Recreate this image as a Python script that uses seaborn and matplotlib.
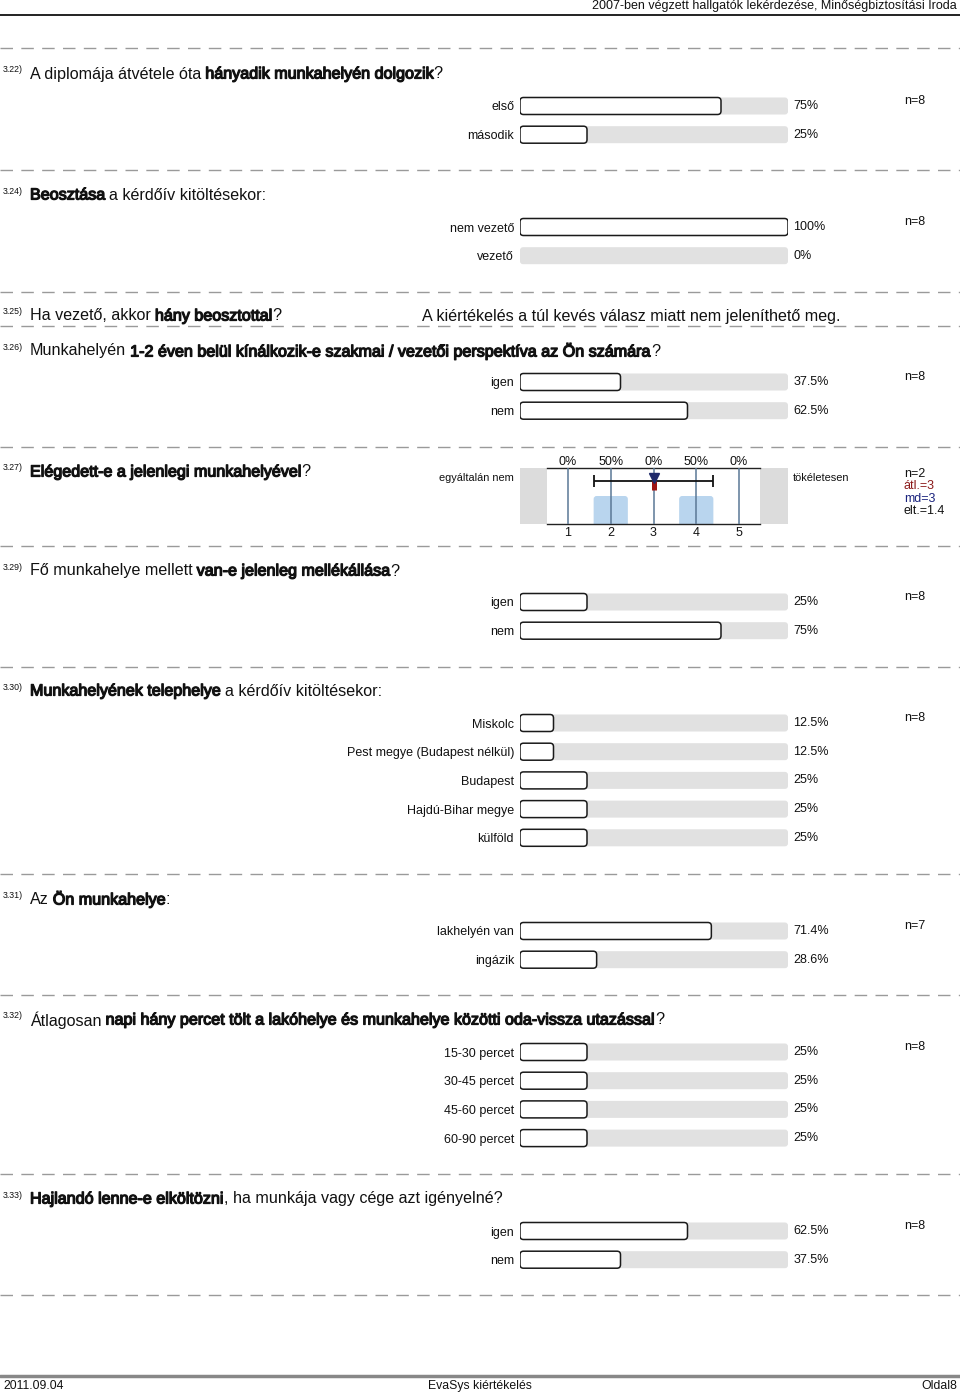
import numpy as np
import pandas as pd
import matplotlib
matplotlib.use("Agg")
import matplotlib.pyplot as plt
import matplotlib.patheffects as pe
import seaborn as sns
from matplotlib.patches import FancyBboxPatch, Rectangle

# ---------------- data ----------------
header_text = "2007-ben végzett hallgatók lekérdezése, Minőségbiztosítási Iroda"
footer_left = "2011.09.04"
footer_mid = "EvaSys kiértékelés"
footer_right = "Oldal8"

q22_labels = ["első", "második"]
q22_values = [75, 25]
q22_n = "n=8"

q24_labels = ["nem vezető", "vezető"]
q24_values = [100, 0]
q24_n = "n=8"

q25_note = "A kiértékelés a túl kevés válasz miatt nem jeleníthető meg."

q26_labels = ["igen", "nem"]
q26_values = [37.5, 62.5]
q26_n = "n=8"

q27_scores = [1, 2, 3, 4, 5]
q27_pct = [0, 50, 0, 50, 0]
q27_left = "egyáltalán nem"
q27_right = "tökéletesen"
q27_n = 2
q27_mean = 3
q27_median = 3
q27_sd = 1.4

q29_labels = ["igen", "nem"]
q29_values = [25, 75]
q29_n = "n=8"

q30_labels = ["Miskolc", "Pest megye (Budapest nélkül)", "Budapest", "Hajdú-Bihar megye", "külföld"]
q30_values = [12.5, 12.5, 25, 25, 25]
q30_n = "n=8"

q31_labels = ["lakhelyén van", "ingázik"]
q31_values = [71.4, 28.6]
q31_n = "n=7"

q32_labels = ["15-30 percet", "30-45 percet", "45-60 percet", "60-90 percet"]
q32_values = [25, 25, 25, 25]
q32_n = "n=8"

q33_labels = ["igen", "nem"]
q33_values = [62.5, 37.5]
q33_n = "n=8"

questions = [
    ("3.22)", [("A diplomája átvétele óta ", False), ("hányadik munkahelyén dolgozik", True), ("?", False)]),
    ("3.24)", [("Beosztása", True), (" a kérdőív kitöltésekor:", False)]),
    ("3.25)", [("Ha vezető, akkor ", False), ("hány beosztottal", True), ("?", False)]),
    ("3.26)", [("Munkahelyén ", False), ("1-2 éven belül kínálkozik-e szakmai / vezetői perspektíva az Ön számára", True), ("?", False)]),
    ("3.27)", [("Elégedett-e a jelenlegi munkahelyével", True), ("?", False)]),
    ("3.29)", [("Fő munkahelye mellett ", False), ("van-e jelenleg mellékállása", True), ("?", False)]),
    ("3.30)", [("Munkahelyének telephelye", True), (" a kérdőív kitöltésekor:", False)]),
    ("3.31)", [("Az ", False), ("Ön munkahelye", True), (":", False)]),
    ("3.32)", [("Átlagosan ", False), ("napi hány percet tölt a lakóhelye és munkahelye közötti oda-vissza utazással", True), ("?", False)]),
    ("3.33)", [("Hajlandó lenne-e elköltözni", True), (", ha munkája vagy cége azt igényelné?", False)]),
]

# ---------------- layout ----------------
W, H = 960, 1395
sns.set_theme(style="white")
plt.rcParams["font.family"] = ["Liberation Sans", "DejaVu Sans"]

fig = plt.figure(figsize=(W / 100, H / 100), dpi=100)
page = fig.add_axes([0, 0, 1, 1])
page.set_xlim(0, W)
page.set_ylim(H, 0)
page.axis("off")
renderer = fig.canvas.get_renderer()

Q_SIZE = 11.6
L_SIZE = 9.0
S_SIZE = 9.0
TXT = "#111111"
FAUX_BOLD = [pe.withStroke(linewidth=0.9, foreground=TXT)]


def px_axes(x0, y0, x1, y1):
    return fig.add_axes([x0 / W, 1 - y1 / H, (x1 - x0) / W, (y1 - y0) / H])


def measure(txt, size):
    t = page.text(0, 0, txt, fontsize=size)
    w = t.get_window_extent(renderer).width
    t.remove()
    return w


SPACE = 0.9 * (measure("a a", Q_SIZE) - measure("aa", Q_SIZE))


def question(num, segs, y):
    page.text(3, y - 4, num, fontsize=6.3, color=TXT, va="center", ha="left")
    x = 30
    for txt, bold in segs:
        lead = len(txt) - len(txt.lstrip(" "))
        trail = len(txt) - len(txt.rstrip(" "))
        core = txt.strip(" ")
        x += lead * SPACE
        t = page.text(x, y, core, fontsize=Q_SIZE, color=TXT, va="center", ha="left",
                      path_effects=FAUX_BOLD if bold else None)
        x += t.get_window_extent(renderer).width - (0.5 if bold else 0)
        x += trail * SPACE


def dashed(y):
    page.plot([0, W], [y, y], color="#9a9a9a", lw=1.0, linestyle=(0, (9, 6)))


def round_patch(ax, p, fc, ec, lw, r_px, xpx, ypx):
    x, y, w, h = p.get_x(), p.get_y(), p.get_width(), p.get_height()
    p.set_visible(False)
    if w <= 0:
        return
    fb = FancyBboxPatch((x, y), w, h,
                        boxstyle=f"round,pad=0,rounding_size={r_px / xpx}",
                        mutation_aspect=xpx / ypx, fc=fc, ec=ec, lw=lw, zorder=3)
    ax.add_patch(fb)


def bar_block(labels, values, n_text, y_first, step=28.7, bar_h=17):
    k = len(labels)
    top = y_first - step / 2
    ax = px_axes(520, top, 788, top + k * step)
    df = pd.DataFrame({"label": labels, "value": values, "full": [100] * k})
    sns.barplot(data=df, x="full", y="label", orient="h", color="#e1e1e1",
                saturation=1, width=bar_h / step, ax=ax)
    sns.barplot(data=df, x="value", y="label", orient="h", color="white",
                saturation=1, width=bar_h / step, ax=ax)
    ax.set_xlim(0, 100)
    ax.set_ylim(k - 0.5, -0.5)
    xpx, ypx = 268 / 100, step
    pct = [f"{v:g}%" for v in values]
    ax.bar_label(ax.containers[0], labels=pct, padding=3.8, fontsize=L_SIZE, color=TXT)
    for p in ax.containers[0]:
        round_patch(ax, p, "#e1e1e1", "none", 0, 3, xpx, ypx)
    for p in ax.containers[1]:
        round_patch(ax, p, "white", "#1a1a1a", 1.1, 3.5, xpx, ypx)
    for s in ax.spines.values():
        s.set_visible(False)
    ax.set_xticks([])
    ax.set_xlabel("")
    ax.set_ylabel("")
    ax.tick_params(axis="y", length=0, pad=4.3, labelsize=L_SIZE, labelcolor=TXT)
    ax.patch.set_alpha(0)
    page.text(904, y_first - 5, n_text, fontsize=L_SIZE, color=TXT, va="center", ha="left")


# header / footer
page.text(957, 6, header_text, fontsize=9.0, color=TXT, ha="right", va="center")
page.plot([0, W], [14.5, 14.5], color="#222222", lw=1.4)
page.plot([0, W], [1376, 1376], color="#888888", lw=2.5)
page.text(3, 1386, footer_left, fontsize=8.8, color=TXT, ha="left", va="center")
page.text(480, 1386, footer_mid, fontsize=8.8, color=TXT, ha="center", va="center")
page.text(957, 1386, footer_right, fontsize=8.8, color=TXT, ha="right", va="center")

for y in [48, 170, 292, 326, 447, 546, 667, 874, 995, 1174, 1295]:
    dashed(y)

q_y = [74, 195, 316, 351, 472, 571, 691, 899, 1020, 1199]
for (num, segs), y in zip(questions, q_y):
    question(num, segs, y)

page.text(422, 316, q25_note, fontsize=Q_SIZE, color=TXT, va="center", ha="left")

bar_block(q22_labels, q22_values, q22_n, 106)
bar_block(q24_labels, q24_values, q24_n, 227)
bar_block(q26_labels, q26_values, q26_n, 382)
bar_block(q29_labels, q29_values, q29_n, 602)
bar_block(q30_labels, q30_values, q30_n, 723)
bar_block(q31_labels, q31_values, q31_n, 931)
bar_block(q32_labels, q32_values, q32_n, 1052)
bar_block(q33_labels, q33_values, q33_n, 1231)

# ---------------- 3.27 scale ----------------
x0s, x1s, y0s, y1s = 546.6, 760.4, 468, 524
page.add_patch(Rectangle((520, y0s), x0s - 520, y1s - y0s, fc="#dcdcdc", ec="none"))
page.add_patch(Rectangle((x1s, y0s), 788 - x1s, y1s - y0s, fc="#dcdcdc", ec="none"))
ax = px_axes(x0s, y0s, x1s, y1s)
df27 = pd.DataFrame({"score": q27_scores, "pct": q27_pct})
sns.barplot(data=df27, x="score", y="pct", native_scale=True, color="#b9d5ee",
            saturation=1, width=0.8, ax=ax)
ax.set_xlim(0.5, 5.5)
ax.set_ylim(0, 100)
for p in ax.containers[0]:
    x, y, w, h = p.get_x(), p.get_y(), p.get_width(), p.get_height()
    p.set_visible(False)
    if h > 0:
        ax.add_patch(FancyBboxPatch((x, y - 10), w, h + 10,
                                    boxstyle=f"round,pad=0,rounding_size={3 / 42.75}",
                                    mutation_aspect=42.75 / (56 / 100),
                                    fc="#b9d5ee", ec="none", zorder=2, clip_on=True))
ax.vlines(q27_scores, 0, 100, color="#5a7896", lw=1.1, zorder=3)
ax.errorbar(q27_mean, 77, xerr=q27_sd, color="#111111", lw=1.3, capsize=4.5,
            capthick=1.3, zorder=4)
ax.plot([q27_mean, q27_mean], [61, 77], color="#9e1515", lw=3.6,
        solid_capstyle="butt", zorder=5)
ax.plot([q27_median], [83], marker="v", ms=7, color="#1f2a6b", zorder=6, ls="none")
for s in ["left", "right"]:
    ax.spines[s].set_visible(False)
for s in ["top", "bottom"]:
    ax.spines[s].set_visible(True)
    ax.spines[s].set_color("#222222")
    ax.spines[s].set_linewidth(1.0)
ax.set_xticks(q27_scores)
ax.set_xticklabels([str(s) for s in q27_scores])
ax.set_yticks([])
ax.set_xlabel("")
ax.set_ylabel("")
ax.tick_params(axis="x", length=0, pad=2.5, labelsize=S_SIZE, labelcolor=TXT)
ax.patch.set_facecolor("white")
for s, p in zip(q27_scores, q27_pct):
    ax.annotate(f"{p}%", (s, 1), xycoords=("data", "axes fraction"), xytext=(0, 4),
                textcoords="offset points", ha="center", va="center", fontsize=S_SIZE, color=TXT)
page.text(514, 478, q27_left, fontsize=7.9, color=TXT, ha="right", va="center")
page.text(793, 478, q27_right, fontsize=7.9, color=TXT, ha="left", va="center")
stats = [(f"n={q27_n}", TXT), (f"átl.={q27_mean:g}", "#8b1a1a"),
         (f"md={q27_median:g}", "#1a237e"), (f"elt.={q27_sd:g}", TXT)]
for i, (s, c) in enumerate(stats):
    page.text(904, 474 + i * 12.4, s, fontsize=9.0, color=c, ha="left", va="center")

fig.savefig("out.png", dpi=100)
